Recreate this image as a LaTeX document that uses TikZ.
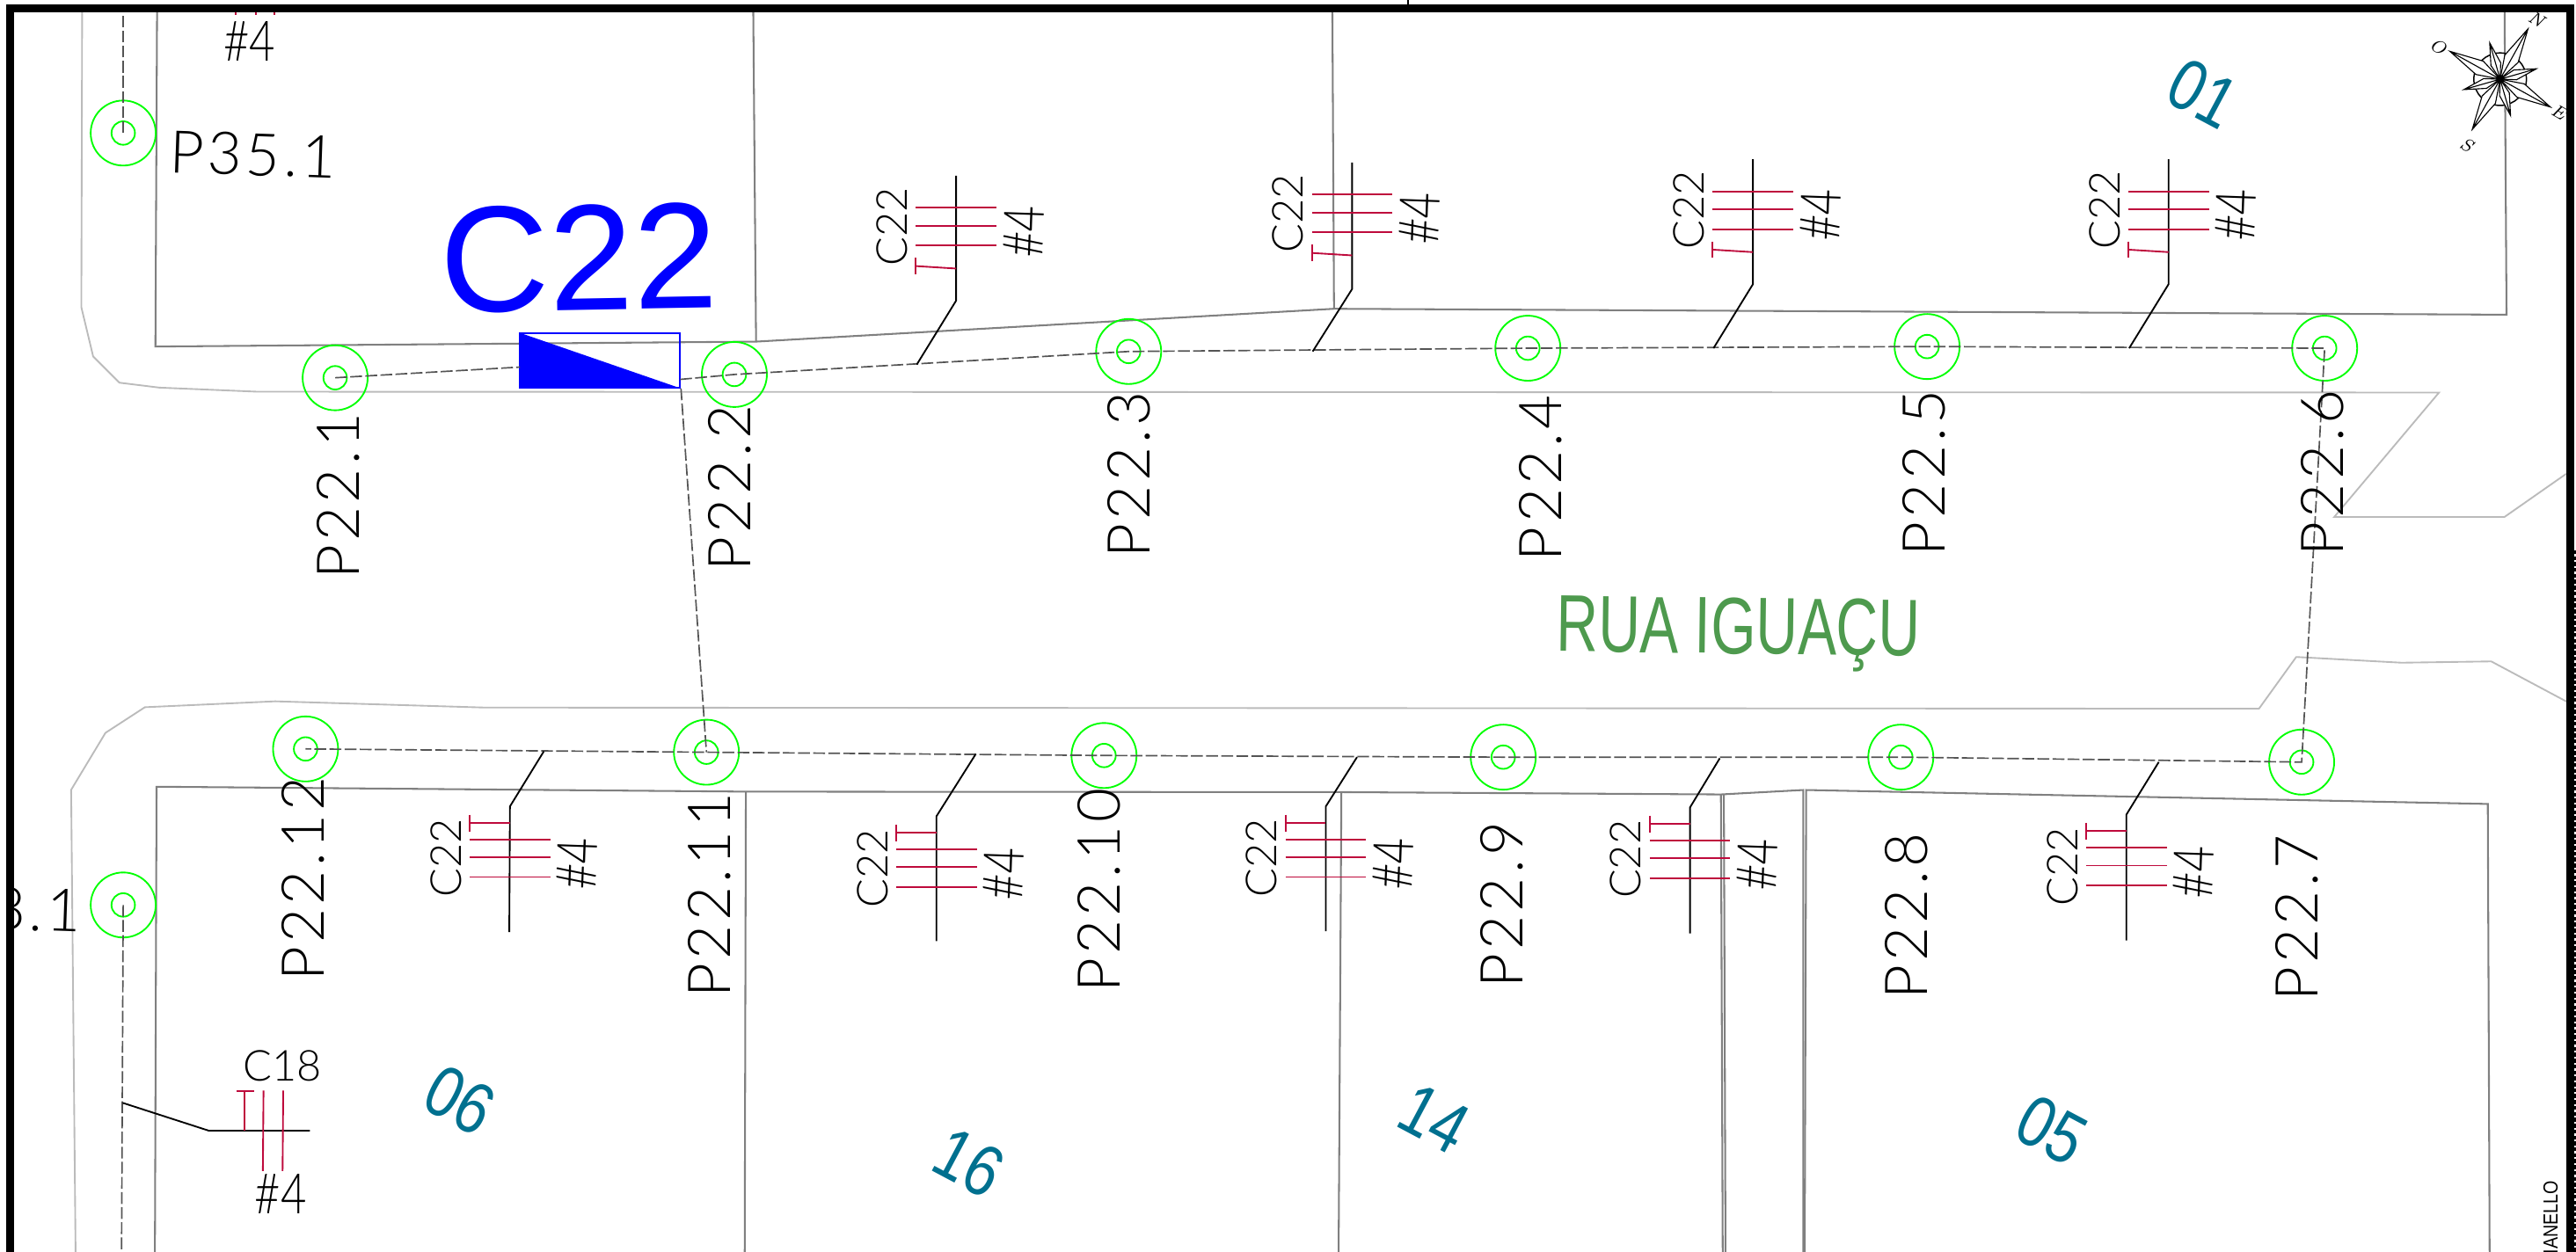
\documentclass[tikz,border=0pt]{standalone}
\usepackage{fontspec}
\usepackage{xcolor}
\setmainfont{Liberation Sans}
\newfontfamily\cadfont[LetterSpace=6.5]{Lato Light}
\newfontfamily\cadnarrow{Lato Light}
\newfontfamily\gaugefont[FakeStretch=0.8]{Lato Light}
\newfontfamily\roadfont[FakeStretch=0.72]{Liberation Sans}
\newfontfamily\lotfont[FakeStretch=0.82]{Liberation Sans}
\newfontfamily\signfont[FakeStretch=0.85]{Liberation Sans}
\newfontfamily\compassfont{Latin Modern Roman}
\usetikzlibrary{calc}
\definecolor{lotgray}{HTML}{808080}
\definecolor{roadgray}{HTML}{BBBBBB}
\definecolor{wirered}{HTML}{BE0A3C}
\definecolor{lotteal}{HTML}{00708F}
\definecolor{roadgreen}{HTML}{4E9A4E}
\tikzset{
  lot/.style={draw=lotgray, line width=0.55pt},
  road/.style={draw=roadgray, line width=0.5pt},
  net/.style={draw=black!67, line width=0.45pt, dash pattern=on 3.6pt off 1pt},
  drop/.style={draw=black, line width=0.5pt},
  redline/.style={draw=wirered, line width=0.5pt},
  frame/.style={draw=black, line width=2.3pt},
  pole/.style={circle, draw=green, line width=0.5pt, inner sep=0pt, minimum size=19.8pt,
    path picture={\draw[green, line width=0.5pt] (path picture bounding box.center) circle (3.57pt);}},
  polename/.style={font=\cadfont\fontsize{18}{18}\selectfont, inner sep=0pt, rotate=90},
  wirename/.style={font=\cadnarrow\fontsize{13}{13}\selectfont, inner sep=0pt, rotate=90},
  gaugename/.style={font=\gaugefont\fontsize{17}{17}\selectfont, inner sep=0pt, rotate=88},
  lotname/.style={font=\lotfont\fontsize{22}{22}\selectfont, text=lotteal, inner sep=0pt, rotate=-28},
  rosetip/.style={draw=black, line width=0.3pt, fill=white},
  rosename/.style={font=\compassfont\itshape\fontsize{5.5}{5.5}\selectfont, inner sep=0pt, rotate=-30},
  barsup/.pic={
    \draw[redline] (-24.5,19.5) -- (24.5,19.5);
    \draw[redline] (-24.5,30.5) -- (24.5,30.5);
    \draw[redline] (-24.5,42.5) -- (24.5,42.5);
    \draw[redline] (-24.5,55) -- (0,56.5);
    \draw[redline] (-24.5,50) -- (-24.5,60);
    \node[wirename] (-wire) at (-39,31) {C22};
    \node[gaugename] (-gauge) at (41,34) {\#4};
  },
  barsdown/.pic={
    \draw[redline] (-24.5,10) -- (0,10);
    \draw[redline] (-24.5,5) -- (-24.5,15.4);
    \draw[redline] (-24.5,20) -- (24.5,20);
    \draw[redline] (-24.5,31) -- (24.5,31);
    \draw[redline] (-24.5,43) -- (24.5,43);
    \node[wirename] (-wire) at (-39,31.6) {C22};
    \node[gaugename] (-gauge) at (41,35) {\#4};
  }
}

\begin{document}
\begin{tikzpicture}[x=0.5pt,y=-0.5pt]
\useasboundingbox (0,0) rectangle (1568,762.3);

\begin{scope}
\clip (8,7) rectangle (1562,762.3);

% road edges
\draw[road] (50,7) -- (49.5,187) -- (56.7,217) -- (72.7,233) -- (97,236) -- (157,238.5) -- (1484.6,239) -- (1420.8,314.8) -- (1524.4,314.8) -- (1562,288.5);
\draw[road] (46,762.3) -- (43.3,480.9) -- (64.2,446.2) -- (88.2,430.6) -- (167.5,427) -- (295,430.8) -- (1375,431.5) -- (1397.7,400) -- (1461.8,403.5) -- (1516.4,402.7) -- (1562.5,427.3);

% lots
\draw[lot] (95.6,7) -- (94.6,211) -- (460.2,208) -- (812,188) -- (1525.7,191.6) -- (1524.5,7);
\draw[lot] (458.5,7) -- (460.2,208);
\draw[lot] (811,7) -- (812,188);
\draw[lot] (94.3,762.3) -- (95.3,479) -- (454,482) -- (816.5,482.3) -- (1047.5,483.7) -- (1097.6,481) -- (1097.6,762.3);
\draw[lot] (454,482) -- (453.3,762.3);
\draw[lot] (816.5,482.3) -- (814.8,762.3);
\draw[lot] (1047.5,483.7) -- (1048.6,762.3);
\draw[lot] (1049.3,483.7) -- (1050.3,762.3);
\draw[lot] (1098.5,762.3) -- (1099.4,481) -- (1514.3,489.5) -- (1515.4,762.3);

% poles
\node[pole] (p351) at (75,81) {};
\node[pole] (p381) at (75,551) {};
\node[pole] (p221) at (204,230) {};
\node[pole] (p222) at (447,228) {};
\node[pole] (p223) at (687,214) {};
\node[pole] (p224) at (930,212) {};
\node[pole] (p225) at (1173,211) {};
\node[pole] (p226) at (1415,212) {};
\node[pole] (p227) at (1401,464) {};
\node[pole] (p228) at (1157,461) {};
\node[pole] (p229) at (915,461) {};
\node[pole] (p2210) at (672,460) {};
\node[pole] (p2211) at (430,458) {};
\node[pole] (p2212) at (186,456) {};

% transformer
\node[draw=blue, line width=0.5pt, inner sep=0pt, minimum width=48.75pt, minimum height=16.5pt] (trafo) at (365.25,219.5) {};
\fill[blue] (trafo.north west) -- (trafo.south east) -- (trafo.south west) -- cycle;
\node[font=\fontsize{46}{46}\selectfont, text=blue, inner sep=0pt, anchor=base, rotate=1] (trafoname) at (353,189) {C22};
\coordinate (trL) at (316.5,223.5);
\coordinate (trR) at (414,231);

% network
\coordinate (upend) at (75,7);
\coordinate (lowend) at (74,762.3);
\draw[net] (p351.center) -- (upend);
\draw[net] (p381.center) -- (lowend);
\draw[net] (p221.center) -- (trL);
\draw[net] (trR) -- (p222.center) -- (p223.center) -- (p224.center) -- (p225.center) -- (p226.center) -- (p227.center) -- (p228.center) -- (p229.center) -- (p2210.center) -- (p2211.center) -- (p2212.center);
\draw[net] (trafo.south east) -- (p2211.center);

% upper drops
\coordinate (t1) at (558,222);
\coordinate (k1) at (582,183);
\coordinate (v1) at (582,107);
\draw[drop] (t1) -- (k1) -- (v1);
\pic (d1) at (v1) {barsup};
\coordinate (t2) at (799,214);
\coordinate (k2) at (823,176);
\coordinate (v2) at (823,99);
\draw[drop] (t2) -- (k2) -- (v2);
\pic (d2) at (v2) {barsup};
\coordinate (t3) at (1043,212);
\coordinate (k3) at (1067,173);
\coordinate (v3) at (1067,97);
\draw[drop] (t3) -- (k3) -- (v3);
\pic (d3) at (v3) {barsup};
\coordinate (t4) at (1296,212);
\coordinate (k4) at (1320,173);
\coordinate (v4) at (1320,97);
\draw[drop] (t4) -- (k4) -- (v4);
\pic (d4) at (v4) {barsup};

% lower drops
\coordinate (t5) at (331,457.5);
\coordinate (k5) at (310.4,491);
\coordinate (v5) at (310,567.5);
\draw[drop] (t5) -- (k5) -- (v5);
\pic (d5) at (k5) {barsdown};
\coordinate (t6) at (594,459);
\coordinate (k6) at (570,497);
\coordinate (v6) at (570,573);
\draw[drop] (t6) -- (k6) -- (v6);
\pic (d6) at (k6) {barsdown};
\coordinate (t7) at (826,461);
\coordinate (k7) at (807,491);
\coordinate (v7) at (807,567);
\draw[drop] (t7) -- (k7) -- (v7);
\pic (d7) at (k7) {barsdown};
\coordinate (t8) at (1046.8,461.7);
\coordinate (k8) at (1028.7,491.6);
\coordinate (v8) at (1028.7,568.3);
\draw[drop] (t8) -- (k8) -- (v8);
\pic (d8) at (k8) {barsdown};
\coordinate (t9) at (1314,464);
\coordinate (k9) at (1294.3,496);
\coordinate (v9) at (1294.3,572.6);
\draw[drop] (t9) -- (k9) -- (v9);
\pic (d9) at (k9) {barsdown};

% drop on the side street
\coordinate (t10) at (74.7,671.5);
\coordinate (k10) at (127,688.4);
\coordinate (v10) at (188.7,688.4);
\draw[drop] (t10) -- (k10) -- (v10);
\draw[redline] (149,688.4) -- (149,664.2);
\draw[redline] (144,664.2) -- (154.6,664.2);
\draw[redline] (160.4,664) -- (160,713);
\draw[redline] (172.4,664) -- (172,713);
\node[wirename, rotate=-90] (c18) at (172,649) {C18};
\node[gaugename, rotate=-88] (g18) at (171,727) {\#4};

% stub at the top
\draw[redline] (143.7,7) -- (143.7,9);
\draw[redline] (156,7) -- (156,9);
\draw[redline] (167,7) -- (167,9);
\node[gaugename, rotate=-88] (g35) at (152,25) {\#4};

% pole names
\node[polename, rotate=-92] (n351) at (154,94) {P35.1};
\node[polename, rotate=-92] (n381) at (-1,553) {P38.1};
\node[polename] (n221) at (205.7,302) {P22.1};
\node[polename] (n222) at (444,297) {P22.2};
\node[polename] (n223) at (687,289) {P22.3};
\node[polename] (n224) at (938,291) {P22.4};
\node[polename] (n225) at (1171,288) {P22.5};
\node[polename] (n226) at (1413.9,288) {P22.6};
\node[polename] (n227) at (1398,559) {P22.7};
\node[polename] (n228) at (1160.6,558) {P22.8};
\node[polename] (n229) at (914,551) {P22.9};
\node[polename] (n2210) at (669,542) {P22.10};
\node[polename] (n2211) at (432,545) {P22.11};
\node[polename] (n2212) at (184.4,535) {P22.12};

% lots and street names
\node[lotname] (l01) at (1341,57) {01};
\node[lotname] (l06) at (280,670) {06};
\node[lotname] (l16) at (590,708) {16};
\node[lotname] (l14) at (873,681) {14};
\node[lotname] (l05) at (1249,688) {05};
\node[font=\roadfont\fontsize{24.5}{24.5}\selectfont, text=roadgreen, inner sep=0pt, anchor=base, rotate=-0.7] (street) at (1058,398) {RUA IGUAÇU};
\node[font=\signfont\fontsize{6.2}{6.2}\selectfont, inner sep=0pt, rotate=90, anchor=east] (sign) at (1552.5,718.5) {IANELLO};

% compass
\begin{scope}[shift={(1521.8,48.2)}]
\draw[draw=black, line width=0.4pt] (0,0) circle (8pt);
\draw[rosetip] (0,0) -- (-88:10) -- (-106:23) -- (-124:10) -- cycle (0,0) -- (-106:23);
\draw[rosetip] (0,0) -- (2:10) -- (-16:23) -- (-34:10) -- cycle (0,0) -- (-16:23);
\draw[rosetip] (0,0) -- (-268:10) -- (-286:23) -- (-304:10) -- cycle (0,0) -- (-286:23);
\draw[rosetip] (0,0) -- (-178:10) -- (-196:23) -- (-214:10) -- cycle (0,0) -- (-196:23);
\draw[rosetip] (0,0) -- (-43:15) -- (-61:35) -- (-79:15) -- cycle (0,0) -- (-61:35);
\draw[rosetip] (0,0) -- (-133:15) -- (-151:35) -- (-169:15) -- cycle (0,0) -- (-151:35);
\draw[rosetip] (0,0) -- (-223:15) -- (-241:35) -- (-259:15) -- cycle (0,0) -- (-241:35);
\draw[rosetip] (0,0) -- (-313:15) -- (-331:35) -- (-349:15) -- cycle (0,0) -- (-331:35);
\end{scope}
\node[rosename] (north) at (1544,11.7) {N};
\node[rosename] (west) at (1484,28.5) {O};
\node[rosename] (east) at (1557.6,68.5) {E};
\node[rosename] (south) at (1501.5,88) {S};
\end{scope}

% sheet frame
\draw[frame] (6.25,770) -- (6.25,5) -- (1564.4,5) -- (1564.4,770);
\draw[draw=black, line width=0.5pt] (857,0) -- (857,3);
\draw[draw=black, line width=1pt, dash pattern=on 1.2pt off 0.6pt] (1567.2,335) -- (1567.2,762.3);
\end{tikzpicture}
\end{document}
